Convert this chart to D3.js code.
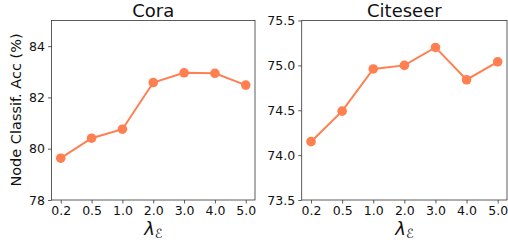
<!DOCTYPE html>
<html>
<head>
<meta charset="utf-8">
<script src="https://cdn.jsdelivr.net/npm/d3@7"></script>
<style>
  body { margin: 0; background: #fff; }
  svg text { font-family: "DejaVu Sans", sans-serif; fill: #111; }
</style>
</head>
<body>
<svg id="chart" width="508" height="243"></svg>
<script>
// lambda values on the x axis (categorical)
var lambdas = ["0.2", "0.5", "1.0", "2.0", "3.0", "4.0", "5.0"];

var coraAcc = [79.63, 80.41, 80.76, 82.58, 82.96, 82.94, 82.48];
var citeseerAcc = [74.15, 74.49, 74.96, 75.00, 75.20, 74.84, 75.04];

var coraTicks = [78, 80, 82, 84];
var citeseerTicks = [73.5, 74.0, 74.5, 75.0, 75.5];

var lineColor = "#ff7f50";

var svg = d3.select("#chart");

function drawPanel(opts) {
    var top = 20.5, bottom = 200;
    var g = svg.append("g");

    var x = d3.scaleLinear().domain([-0.3, lambdas.length - 1 + 0.3]).range([opts.left, opts.right]);
    var y = d3.scaleLinear().domain(opts.domain).range([bottom, top]);

    var xAxis = d3.axisBottom(x)
        .tickValues(d3.range(lambdas.length))
        .tickFormat(i => lambdas[i])
        .tickSize(3.5).tickPadding(3);
    var yAxis = d3.axisLeft(y)
        .tickValues(opts.ticks)
        .tickFormat(opts.fmt)
        .tickSize(3.5).tickPadding(3);

    var gx = g.append("g").attr("transform", "translate(0," + bottom + ")").call(xAxis);
    var gy = g.append("g").attr("transform", "translate(" + opts.left + ",0)").call(yAxis);
    [gx, gy].forEach(function (a) {
        a.select(".domain").remove();
        a.selectAll(".tick line").attr("stroke", "#333").attr("stroke-width", 0.8);
        a.selectAll(".tick text").style("font-size", "12.5px").attr("fill", "#111");
    });

    // frame
    g.append("rect")
        .attr("x", opts.left).attr("y", top)
        .attr("width", opts.right - opts.left).attr("height", bottom - top)
        .attr("fill", "none").attr("stroke", "#333").attr("stroke-width", 0.8);

    var line = d3.line().x((d, i) => x(i)).y(d => y(d));
    g.append("path")
        .datum(opts.values)
        .attr("d", line)
        .attr("fill", "none")
        .attr("stroke", lineColor)
        .attr("stroke-width", 2);

    g.selectAll("circle.pt").data(opts.values).enter()
        .append("circle")
        .attr("class", "pt")
        .attr("cx", (d, i) => x(i))
        .attr("cy", d => y(d))
        .attr("r", 4.8)
        .attr("fill", lineColor);

    var cx = (opts.left + opts.right) / 2;
    g.append("text")
        .attr("x", cx).attr("y", 17)
        .attr("text-anchor", "middle")
        .style("font-size", "18px")
        .text(opts.title);

    var xl = g.append("text")
        .attr("x", cx).attr("y", 235)
        .attr("text-anchor", "middle")
        .style("font-size", "18px");
    xl.append("tspan").style("font-style", "italic").text("λ");
    xl.append("tspan").attr("dy", 3).style("font-size", "12.5px").style("font-style", "italic").text("ℰ");
}

drawPanel({ left: 51.5, right: 255, domain: [78, 85], ticks: coraTicks, fmt: d3.format("d"), values: coraAcc, title: "Cora" });
drawPanel({ left: 301.7, right: 507, domain: [73.5, 75.5], ticks: citeseerTicks, fmt: d3.format(".1f"), values: citeseerAcc, title: "Citeseer" });

svg.append("text")
    .attr("transform", "translate(21,110) rotate(-90)")
    .attr("text-anchor", "middle")
    .style("font-size", "14.5px")
    .text("Node Classif. Acc (%)");
</script>
</body>
</html>
